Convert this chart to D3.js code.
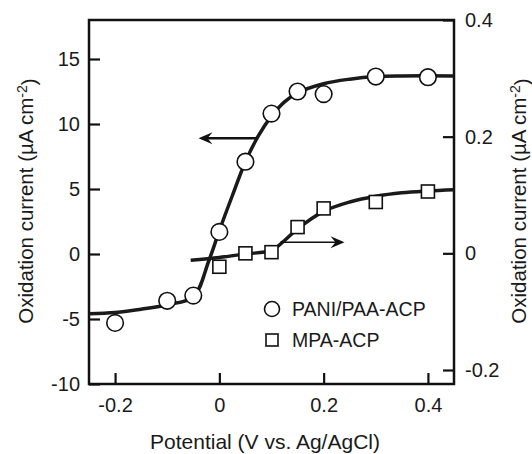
<!DOCTYPE html>
<html lang="en">
<head>
<meta charset="UTF-8">
<script src="https://d3js.org/d3.v7.min.js"></script>
<title>oxidation current</title>
<style>
  body { margin: 0; background: #fff; }
  text { font-family: "Liberation Sans", Arial, sans-serif; fill: #1a1a1a; }
</style>
</head>
<body>
<div id="chart"></div>
<script>
// PANI/PAA-ACP, left axis (uA cm-2)
var paniX = [-0.2, -0.1, -0.05, 0, 0.05, 0.1, 0.15, 0.2, 0.3, 0.4];
var paniY = [-5.3, -3.6, -3.2, 1.7, 7.1, 10.8, 12.5, 12.3, 13.65, 13.6];
// fitted curve
var paniFitX = [-0.25, -0.2, -0.15, -0.1, -0.05, -0.02, 0, 0.025, 0.05, 0.075, 0.1, 0.125, 0.15, 0.2, 0.25, 0.3, 0.35, 0.45];
var paniFitY = [-4.6, -4.5, -4.25, -3.9, -3.3, -0.5, 1.8, 4.5, 7.1, 9.1, 10.6, 11.7, 12.4, 13.1, 13.45, 13.65, 13.7, 13.7];

// MPA-ACP, right axis (uA cm-2)
var mpaX = [0, 0.05, 0.1, 0.15, 0.2, 0.3, 0.4];
var mpaY = [-0.023, 0.0, 0.002, 0.045, 0.077, 0.088, 0.106];
var mpaFitX = [-0.055, 0, 0.05, 0.1, 0.125, 0.15, 0.2, 0.25, 0.3, 0.35, 0.4, 0.45];
var mpaFitY = [-0.012, -0.007, -0.001, 0.005, 0.022, 0.042, 0.072, 0.088, 0.098, 0.104, 0.107, 0.109];

var xTicks = [-0.2, 0, 0.2, 0.4];
var leftTicks = [-10, -5, 0, 5, 10, 15];
var rightTicks = [-0.2, 0, 0.2, 0.4];

// arrows: [x start, x end, y] in data units
var leftArrow = [0.072, -0.04, 8.9];
var rightArrow = [0.117, 0.24, 0.019];

var W = 532, H = 454;
var m = {left: 89, top: 20, right: 78, bottom: 70};
var w = W - m.left - m.right, h = H - m.top - m.bottom;

var svg = d3.select("#chart").append("svg").attr("width", W).attr("height", H);
var g = svg.append("g").attr("transform", "translate(" + m.left + "," + m.top + ")");

var x = d3.scaleLinear().domain([-0.25, 0.45]).range([0, w]);
var yL = d3.scaleLinear().domain([-10, 18]).range([h, 0]);
var yR = d3.scaleLinear().domain([-0.224, 0.4]).range([h, 0]);

var fmt = function(d){ return String(d); };

var axB = g.append("g").attr("transform", "translate(0," + h + ")")
  .call(d3.axisBottom(x).tickValues(xTicks).tickSizeInner(-11).tickSizeOuter(0).tickPadding(14).tickFormat(fmt));
var axL = g.append("g")
  .call(d3.axisLeft(yL).tickValues(leftTicks).tickSizeInner(-11).tickSizeOuter(0).tickPadding(9).tickFormat(fmt));
var axR = g.append("g").attr("transform", "translate(" + w + ",0)")
  .call(d3.axisRight(yR).tickValues(rightTicks).tickSizeInner(-11).tickSizeOuter(0).tickPadding(11).tickFormat(fmt));

[axB, axL, axR].forEach(function(a){
  a.select(".domain").remove();
  a.selectAll("line").attr("stroke", "#111").attr("stroke-width", 2.2);
  a.selectAll("text").style("font-size", "20px").attr("fill", "#1a1a1a");
});

g.append("rect").attr("width", w).attr("height", h)
  .attr("fill", "none").attr("stroke", "#111").attr("stroke-width", 2.5);

// curves
var lineL = d3.line().x(function(d){ return x(d[0]); }).y(function(d){ return yL(d[1]); }).curve(d3.curveCatmullRom);
var lineR = d3.line().x(function(d){ return x(d[0]); }).y(function(d){ return yR(d[1]); }).curve(d3.curveCatmullRom);

g.append("path").datum(d3.zip(paniFitX, paniFitY)).attr("d", lineL)
  .attr("fill", "none").attr("stroke", "#1a1a1a").attr("stroke-width", 3.5);
g.append("path").datum(d3.zip(mpaFitX, mpaFitY)).attr("d", lineR)
  .attr("fill", "none").attr("stroke", "#1a1a1a").attr("stroke-width", 3.5);

// arrows
function arrow(x1, x2, yy, sw){
  var dir = x2 > x1 ? 1 : -1;
  var tx = x2, L = 14, hw = 6;
  g.append("line").attr("x1", x1).attr("x2", tx - dir * 6).attr("y1", yy).attr("y2", yy)
    .attr("stroke", "#111").attr("stroke-width", sw);
  g.append("path")
    .attr("d", "M" + tx + "," + yy + "L" + (tx - dir * L) + "," + (yy - hw) +
      "L" + (tx - dir * (L - 5)) + "," + yy + "L" + (tx - dir * L) + "," + (yy + hw) + "Z")
    .attr("fill", "#111");
}
arrow(x(leftArrow[0]), x(leftArrow[1]), yL(leftArrow[2]), 2.6);
arrow(x(rightArrow[0]), x(rightArrow[1]), yR(rightArrow[2]), 1.6);

// markers
g.selectAll(".pani").data(d3.zip(paniX, paniY)).enter().append("circle")
  .attr("cx", function(d){ return x(d[0]); }).attr("cy", function(d){ return yL(d[1]); })
  .attr("r", 8.3).attr("fill", "#fff").attr("stroke", "#111").attr("stroke-width", 1.6);
var s = 13;
g.selectAll(".mpa").data(d3.zip(mpaX, mpaY)).enter().append("rect")
  .attr("x", function(d){ return x(d[0]) - s / 2; }).attr("y", function(d){ return yR(d[1]) - s / 2; })
  .attr("width", s).attr("height", s).attr("fill", "#fff").attr("stroke", "#111").attr("stroke-width", 1.6);

// legend
var lg = svg.append("g");
lg.append("circle").attr("cx", 272).attr("cy", 309).attr("r", 7.5)
  .attr("fill", "#fff").attr("stroke", "#111").attr("stroke-width", 1.6);
lg.append("rect").attr("x", 266).attr("y", 334).attr("width", 12).attr("height", 12)
  .attr("fill", "#fff").attr("stroke", "#111").attr("stroke-width", 1.6);
lg.append("text").attr("x", 292).attr("y", 316).style("font-size", "19.5px").text("PANI/PAA-ACP");
lg.append("text").attr("x", 292).attr("y", 347).style("font-size", "19.5px").text("MPA-ACP");

// axis titles
svg.append("text").attr("x", 265).attr("y", 449).attr("text-anchor", "middle")
  .style("font-size", "21px").text("Potential (V vs. Ag/AgCl)");

function yTitle(cx){
  var t = svg.append("text").attr("text-anchor", "middle")
    .attr("transform", "translate(" + cx + ",201) rotate(-90)")
    .style("font-size", "20.5px");
  t.append("tspan").text("Oxidation current (µA cm");
  t.append("tspan").attr("dy", "-0.45em").style("font-size", "14px").text("-2");
  t.append("tspan").attr("dy", "0.45em").text(")");
}
yTitle(33);
yTitle(526);
</script>
</body>
</html>
